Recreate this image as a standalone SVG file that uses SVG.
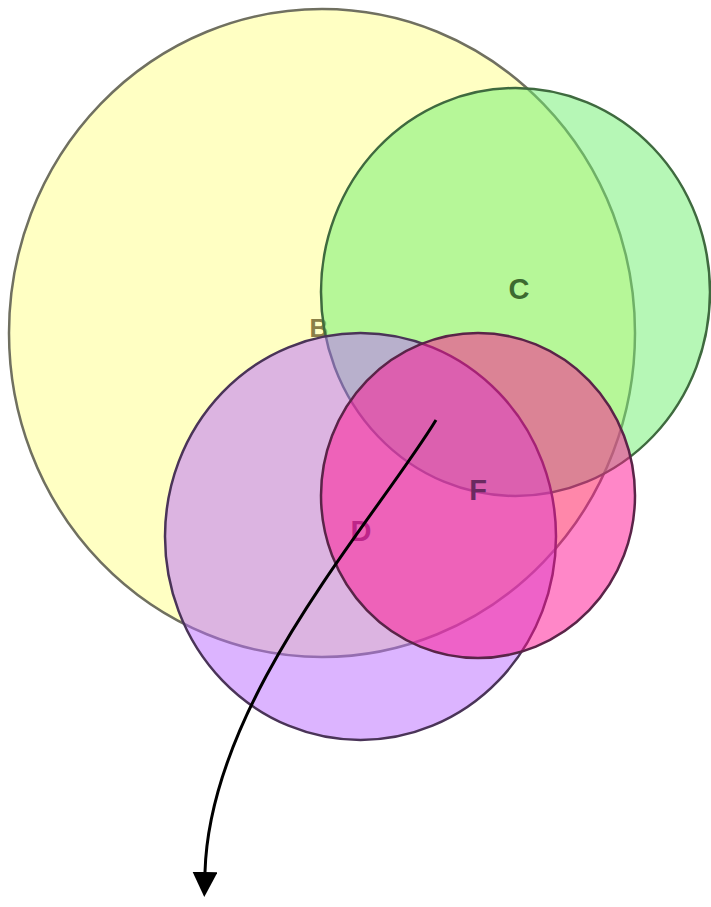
<svg xmlns="http://www.w3.org/2000/svg" width="711" height="907" viewBox="0 0 711 907">
<style>
  .c { stroke-width: 2.5; }
  .lbl { font-family: "Liberation Sans", Arial, sans-serif; font-weight: bold; text-anchor: middle; dominant-baseline: central; }
  .conn { fill: none; stroke: #000; stroke-width: 3; }
</style>
<defs>
  <marker id="arrow" viewBox="0 0 10 10" refX="0" refY="5" markerWidth="25" markerHeight="25" markerUnits="userSpaceOnUse" orient="auto">
    <path d="M0,0 L10,5 L0,10 Z" fill="#000"/>
  </marker>
</defs>
<rect width="711" height="907" fill="#fff"/>
<g id="node-B">
  <ellipse class="c" cx="322" cy="333" rx="313" ry="324" fill="rgb(255,255,135)" fill-opacity="0.5" stroke="#707060"/>
  <text class="lbl" x="319" y="328" font-size="26" fill="#8a8048">B</text>
</g>
<g id="node-C">
  <ellipse class="c" cx="515.5" cy="292" rx="194.5" ry="204" fill="rgb(110,240,110)" fill-opacity="0.5" stroke="#3f6a3f"/>
  <text class="lbl" x="519" y="289" font-size="29" fill="#3c6a30">C</text>
</g>
<g id="node-D">
  <ellipse class="c" cx="360.5" cy="536.5" rx="195.5" ry="203.5" fill="rgb(185,105,255)" fill-opacity="0.5" stroke="#4a3458"/>
  <text class="lbl" x="361" y="531" font-size="29" fill="#7a3a80">D</text>
</g>
<g id="node-F">
  <ellipse class="c" cx="478" cy="495.5" rx="157" ry="162.5" fill="rgb(255,15,145)" fill-opacity="0.5" stroke="#5a2448"/>
  <text class="lbl" x="478" y="490" font-size="29" fill="#6a2a60">F</text>
</g>
<g id="connectors">
  <path class="conn" d="M436,420 C375,520 210,700 205,872" marker-end="url(#arrow)"/>
</g>
</svg>
